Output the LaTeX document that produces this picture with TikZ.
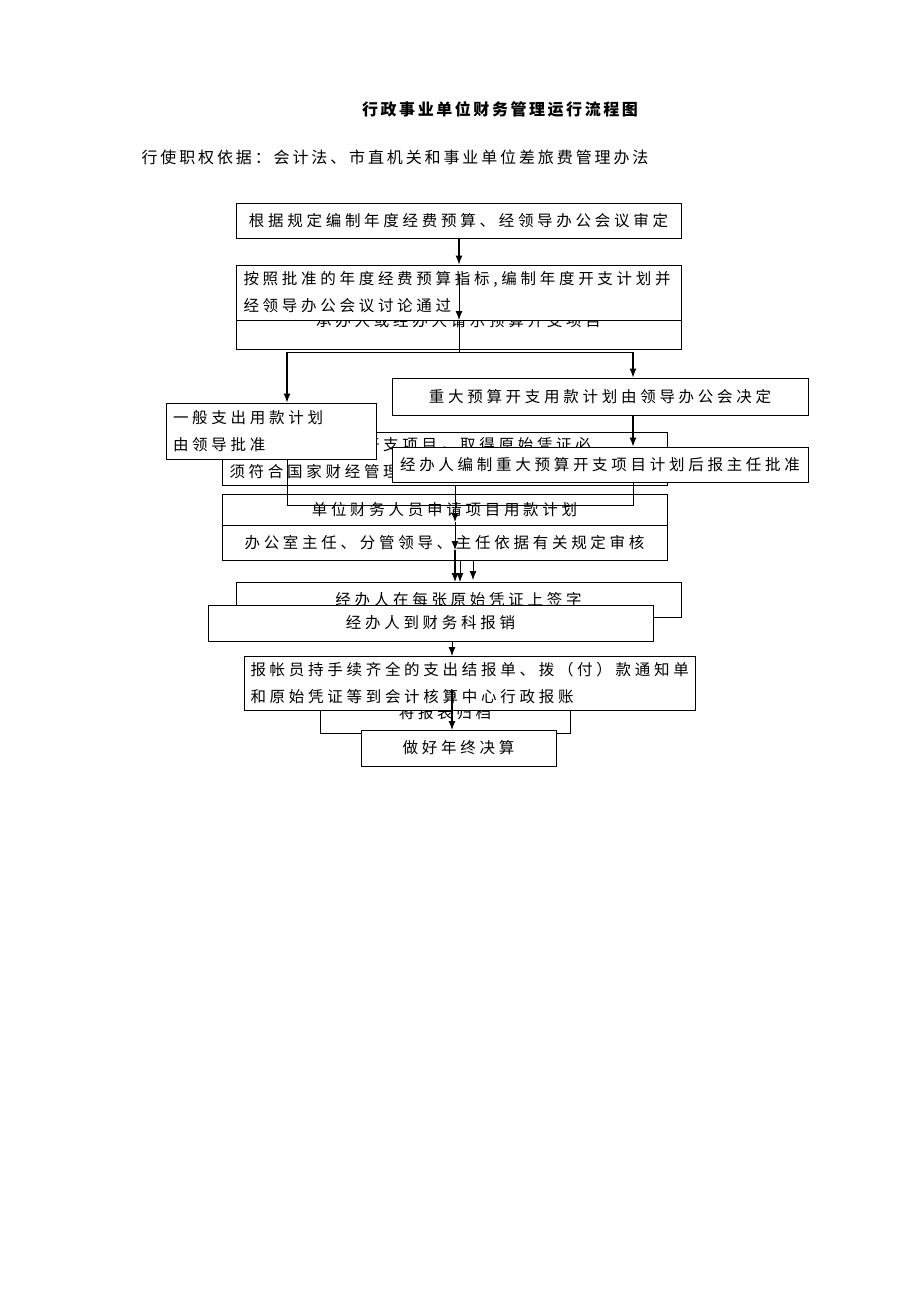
\documentclass[tikz,border=0pt]{standalone}
\usepackage{fontspec}
\newfontfamily\cjk[LetterSpace=24]{Noto Sans CJK SC}
\newfontfamily\cjkt[LetterSpace=16]{Noto Sans CJK SC}
\newfontfamily\cjks[LetterSpace=18]{Noto Sans CJK SC}
\usetikzlibrary{positioning,arrows.meta}
\tikzset{box/.style={draw,fill=white,line width=0.9pt,inner sep=0pt,font=\cjk\fontsize{15.5}{27}\selectfont},
  every path/.style={>={Latex[length=9pt,width=7pt]}}}
\begin{document}
\begin{tikzpicture}[x=1pt,y=-1pt]
  \useasboundingbox (0,0) rectangle (920,1302);
  \node [font=\cjkt\fontsize{16}{18}\selectfont\bfseries] (title) at (500,109) {行政事业单位财务管理运行流程图};
  \node [font=\cjks\fontsize{16}{18}\selectfont,anchor=west] (basis) at (138,157) {行使职权依据：会计法、市直机关和事业单位差旅费管理办法};
  % upper part
  \node [box,minimum width=445,minimum height=35] (plan) at (458.5,220.5) {根据规定编制年度经费预算、经领导办公会议审定};
  \node [box,minimum width=445,minimum height=56] (ask) at (458.5,321) {承办人或经办人请示预算开支项目};
  \node [box,minimum width=445,minimum height=55,align=left,text width=430] (yearplan) at (458.5,292.5) {按照批准的年度经费预算指标,编制年度开支计划并\\经领导办公会议讨论通过};
  \node [box,minimum width=416,minimum height=37] (major) at (600,396.5) {重大预算开支用款计划由领导办公会决定};
  \node [box,minimum width=445,minimum height=53,align=left,text width=430] (handle) at (444.5,458.5) {经办人办理预算开支项目，取得原始凭证必\\须符合国家财经管理规定};
  \node [box,minimum width=210,minimum height=56,align=left,text width=196] (general) at (271,431) {一般支出用款计划\\由领导批准};
  \node [box,minimum width=416,minimum height=35] (majorplan) at (600,464.5) {经办人编制重大预算开支项目计划后报主任批准};
  % lower part
  \node [box,minimum width=445,minimum height=31] (apply) at (444.5,509.5) {单位财务人员申请项目用款计划};
  \node [box,minimum width=445,minimum height=35] (check) at (444.5,542.5) {办公室主任、分管领导、主任依据有关规定审核};
  \node [box,minimum width=445,minimum height=35] (sign) at (458.5,599.5) {经办人在每张原始凭证上签字};
  \node [box,minimum width=445,minimum height=36] (claim) at (430.5,623) {经办人到财务科报销};
  \node [box,minimum width=250,minimum height=40] (file) at (445,713) {将报表归档};
  \node [box,minimum width=451,minimum height=54,align=left,text width=438] (account) at (469.5,683) {报帐员持手续齐全的支出结报单、拨（付）款通知单\\和原始凭证等到会计核算中心行政报账};
  \node [box,minimum width=195,minimum height=36] (final) at (458.5,748) {做好年终决算};
  % connectors
  \coordinate (s1) at (459,275); \coordinate (s2) at (459,320);
  \coordinate (fork) at (459,352);
  \coordinate (fl) at (287,352); \coordinate (fr) at (633,352);
  \coordinate (gl) at (287,505); \coordinate (gr) at (633,505);
  \coordinate (m1) at (455,485); \coordinate (m2) at (455,522); \coordinate (m3) at (455,550); \coordinate (m4) at (455,582);
  \coordinate (n1) at (460,560); \coordinate (n2) at (460,582);
  \coordinate (k1) at (473,560); \coordinate (k2) at (473,580);
  \coordinate (r1) at (452,641); \coordinate (r2) at (452,656);
  \coordinate (q1) at (452,690); \coordinate (q2) at (452,730);
  \draw [->,line width=1.2pt] (plan.south -| s1) -- (yearplan.north -| s1);
  \draw [->,line width=0.9pt] (s1) -- (s2);
  \draw (s2) -- (fork);
  \draw [line width=0.9pt] (fl) -- (fr);
  \draw [->,line width=1.2pt] (fl) -- (general.north -| fl);
  \draw [->,line width=1.2pt] (fr) -- (major.north -| fr);
  \draw [->,line width=1.2pt] (major.south -| fr) -- (majorplan.north -| fr);
  \draw [line width=0.9pt] (general.south -| gl) -- (gl) -- (gr) -- (majorplan.south -| gr);
  \draw [->,line width=0.9pt] (m1) -- (m2);
  \draw [->,line width=0.9pt] (m2) -- (m3);
  \draw [->,line width=1.2pt] (m3) -- (m4);
  \draw [->,line width=0.9pt] (n1) -- (n2);
  \draw [->,line width=0.9pt] (k1) -- (k2);
  \draw [->,line width=0.9pt] (r1) -- (r2);
  \draw [->,line width=1.2pt] (q1) -- (q2);
\end{tikzpicture}
\end{document}
